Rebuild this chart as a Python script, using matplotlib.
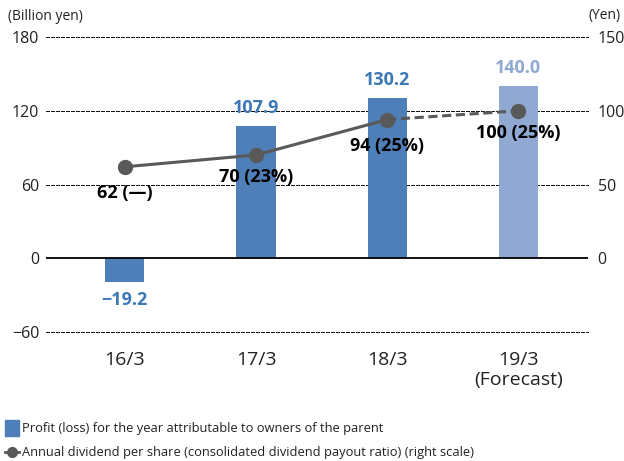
import matplotlib
matplotlib.use("Agg")
import matplotlib.pyplot as plt
from matplotlib.lines import Line2D

plt.rcParams['font.family'] = ['Open Sans', 'DejaVu Sans']

categories = ["16/3", "17/3", "18/3", "19/3\n(Forecast)"]
profit = [-19.2, 107.9, 130.2, 140.0]
profit_labels = ["\u221219.2", "107.9", "130.2", "140.0"]
dividend = [62, 70, 94, 100]
dividend_labels = ["62 (\u2014)", "70 (23%)", "94 (25%)", "100 (25%)"]
left_ticks = [-60, 0, 60, 120, 180]
left_ticklabels = ["\u221260", "0", "60", "120", "180"]
right_ticks = [0, 50, 100, 150]

W, H = 624, 461
fig = plt.figure(figsize=(W / 100, H / 100), dpi=100)
ax = fig.add_axes([46 / W, (H - 332) / H, (588 - 46) / W, (332 - 37) / H])

blue = "#4f7fb8"
light = "#8fa9d3"
label_blue = "#3b78b5"
x = list(range(len(categories)))
colors = [blue, blue, blue, light]
ax.bar(x, profit, width=0.30, color=colors, zorder=2)

ax.set_xlim(-0.6, 3.53)
ax.set_ylim(-60, 180)
for s in ax.spines.values():
    s.set_visible(False)
for t in [-60, 60, 120, 180]:
    ax.axhline(t, color="#111111", lw=0.75, ls=(0, (3, 1.6)), zorder=1, antialiased=False, clip_on=False)
ax.axhline(0, color="black", lw=1.3, zorder=3)
ax.set_yticks(left_ticks)
ax.set_yticklabels(left_ticklabels, fontsize=11.5, color="#222222")
ax.tick_params(axis="y", length=0, pad=5)
ax.set_xticks(x)
ax.set_xticklabels(categories, fontsize=14, color="#222222", linespacing=1.1)
ax.tick_params(axis="x", length=0, pad=14)

for xi, v, lab, c in zip(x, profit, profit_labels, [label_blue, label_blue, label_blue, light]):
    if v >= 0:
        ax.annotate(lab, (xi, v), xytext=(0, 18), textcoords="offset pixels", ha="center", va="center",
                    fontsize=13, fontweight="bold", color=c)
    else:
        ax.annotate(lab, (xi, v), xytext=(0, -18), textcoords="offset pixels", ha="center", va="center",
                    fontsize=13, fontweight="bold", color=c)

ax2 = ax.twinx()
ax2.set_ylim(-50, 150)
for s in ax2.spines.values():
    s.set_visible(False)
ax2.set_yticks(right_ticks)
ax2.set_yticklabels([str(t) for t in right_ticks], fontsize=11.5, color="#222222")
ax2.tick_params(axis="y", length=0, pad=7)

lc = "#595959"
ax2.plot(x[:3], dividend[:3], color=lc, lw=2.2, zorder=4)
ax2.plot(x[2:], dividend[2:], color=lc, lw=2.2, ls=(0, (3, 1.5)), zorder=4)
ax2.plot(x, dividend, ls="none", marker="o", ms=10, color=lc, zorder=5)
offsets = [-26, -22, -26, -22]
for xi, v, lab, off in zip(x, dividend, dividend_labels, offsets):
    ax2.annotate(lab, (xi, v), xytext=(0, off), textcoords="offset pixels", ha="center", va="center",
                 fontsize=13, fontweight="bold", color="black", zorder=6)

fig.text(8 / W, 1 - 16 / H, "(Billion yen)", fontsize=10, color="#222222", ha="left", va="center")
fig.text(621 / W, 1 - 16 / H, "(Yen)", fontsize=10, color="#222222", ha="right", va="center")

# legend
fig.patches.append(plt.Rectangle((5 / W, 1 - 436 / H), 14 / W, 16 / H, transform=fig.transFigure, color=blue))
fig.text(22 / W, 1 - 428 / H, "Profit (loss) for the year attributable to owners of the parent",
         fontsize=9.3, color="#222222", ha="left", va="center")
fig.lines.append(Line2D([5 / W, 19 / W], [1 - 452 / H, 1 - 452 / H], transform=fig.transFigure, color=lc, lw=2))
fig.lines.append(Line2D([12 / W], [1 - 452 / H], transform=fig.transFigure, color=lc, marker="o", ms=7, ls="none"))
fig.text(22 / W, 1 - 452 / H, "Annual dividend per share (consolidated dividend payout ratio) (right scale)",
         fontsize=9.3, color="#222222", ha="left", va="center")

fig.savefig("out.png", dpi=100)
